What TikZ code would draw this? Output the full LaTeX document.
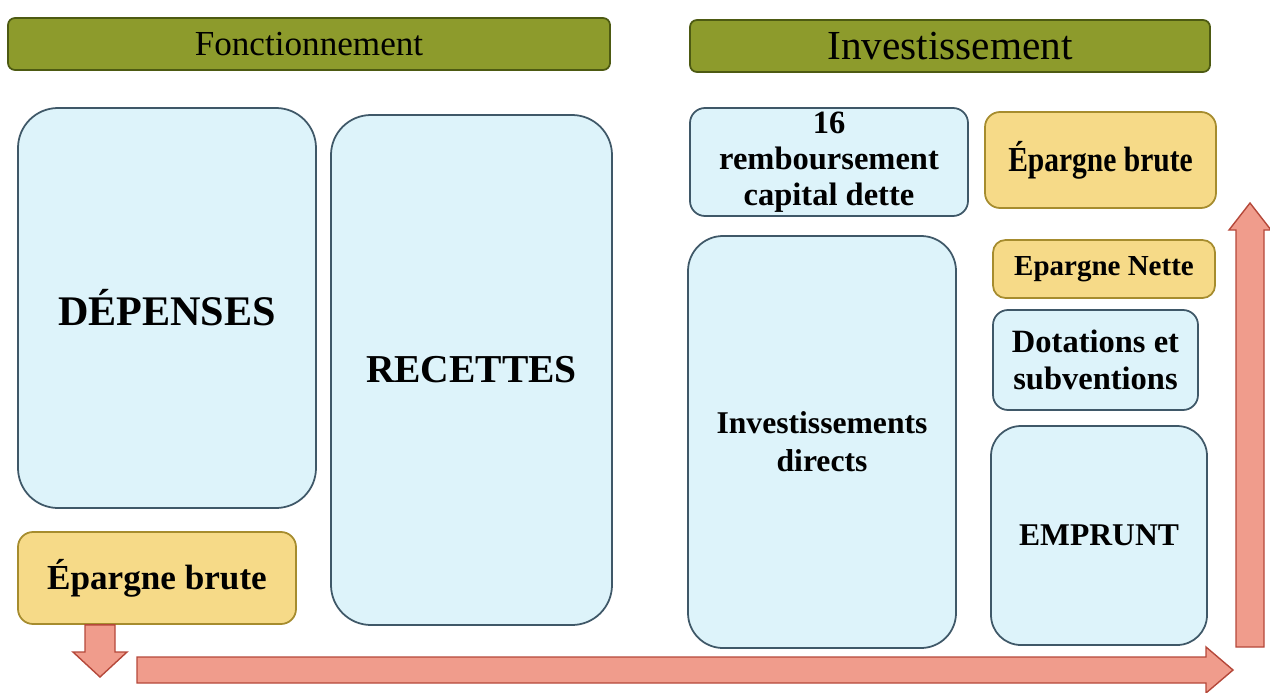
\documentclass[tikz,border=0pt]{standalone}
\usepackage{fontspec}
\setmainfont{Liberation Serif}
\usepackage{tikz}
\usetikzlibrary{positioning,calc}
\definecolor{barolive}{HTML}{8D9B2C}
\definecolor{baredge}{HTML}{4D5A12}
\definecolor{boxblue}{HTML}{DDF3FA}
\definecolor{boxedge}{HTML}{3F5868}
\definecolor{boxyellow}{HTML}{F6DA88}
\definecolor{yedge}{HTML}{A68C2E}
\definecolor{arrowfill}{HTML}{F09C8C}
\definecolor{arrowedge}{HTML}{B5483A}
\tikzset{
  barbox/.style={draw=baredge, fill=barolive, rounded corners=4pt, line width=1pt,
    minimum height=10.4mm, inner sep=0pt},
  bluebox/.style={draw=boxedge, fill=boxblue, line width=1pt, align=center,
    font=\bfseries, inner sep=2pt},
  yellowbox/.style={bluebox, draw=yedge, fill=boxyellow},
  flowarrow/.style={draw=arrowedge, fill=arrowfill, line width=0.8pt},
}

\begin{document}
\begin{tikzpicture}[x=0.2mm, y=-0.2mm]
  \useasboundingbox (0,0) rectangle (1270,692);
  % bandeaux
  \node[barbox, minimum width=120.4mm, font=\fontsize{20}{24}\selectfont] (fonc) at (309,44) {Fonctionnement};
  \node[barbox, minimum width=104mm, font=\fontsize{23.5}{28}\selectfont] (inv) at (950,46) {Investissement};
  % fonctionnement
  \node[bluebox, rounded corners=8mm, minimum width=59.6mm, minimum height=80mm,
    font=\bfseries\fontsize{24}{28}\selectfont] (dep) at (167,308) {DÉPENSES};
  \node[bluebox, rounded corners=8mm, minimum width=56.2mm, minimum height=102mm,
    font=\bfseries\fontsize{22.5}{26}\selectfont] (rec) at (471.5,370) {RECETTES};
  \node[yellowbox, rounded corners=3mm, minimum width=55.6mm, minimum height=18.4mm,
    font=\bfseries\fontsize{20}{24}\selectfont] (epbL) at (157,578) {Épargne brute};
  % investissement
  \node[bluebox, rounded corners=3mm, minimum width=55.6mm, minimum height=21.6mm,
    font=\bfseries\fontsize{18.5}{20.5}\selectfont] (remb) at (829,162) {16\\remboursement\\capital dette};
  \node[yellowbox, rounded corners=3mm, minimum width=46.2mm, minimum height=19.2mm,
    font=\bfseries\fontsize{20}{24}\selectfont] (epbR) at (1100.5,160) {\scalebox{0.84}[1]{Épargne brute}};
  \node[bluebox, rounded corners=7mm, minimum width=53.6mm, minimum height=82.4mm,
    font=\bfseries\fontsize{18}{21.5}\selectfont] (invdir) at (822,442) {Investissements\\directs};
  \node[yellowbox, rounded corners=2.5mm, minimum width=44.4mm, minimum height=11.6mm,
    font=\bfseries\fontsize{16.5}{20}\selectfont] (epn) at (1104,269) {Epargne Nette};
  \node[bluebox, rounded corners=3mm, minimum width=41mm, minimum height=20mm,
    font=\bfseries\fontsize{18.5}{21}\selectfont] (dot) at (1095.5,360) {Dotations et\\subventions};
  \node[bluebox, rounded corners=6mm, minimum width=43.2mm, minimum height=43.8mm,
    font=\bfseries\fontsize{18}{21}\selectfont] (emp) at (1099,535.5) {EMPRUNT};
  % flèches
  \coordinate (dtop) at (epbL.south -| 100,0);
  \coordinate (dtip) at (100,677);
  \draw[flowarrow] ($(dtop)+(-15,0)$) -- ($(dtip)+(-15,-25)$) -- ($(dtip)+(-27,-25)$) -- (dtip)
    -- ($(dtip)+(27,-25)$) -- ($(dtip)+(15,-25)$) -- ($(dtop)+(15,0)$) -- cycle;
  \coordinate (hstart) at (137,670);
  \coordinate (htip) at (1233,670);
  \draw[flowarrow] ($(hstart)+(0,-13)$) -- ($(htip)+(-27,-13)$) -- ($(htip)+(-27,-23)$) -- (htip)
    -- ($(htip)+(-27,23)$) -- ($(htip)+(-27,13)$) -- ($(hstart)+(0,13)$) -- cycle;
  \coordinate (vstart) at (1250,647);
  \coordinate (vtip) at (1250,203);
  \draw[flowarrow] ($(vstart)+(-14,0)$) -- ($(vtip)+(-14,27)$) -- ($(vtip)+(-21,27)$) -- (vtip)
    -- ($(vtip)+(21,27)$) -- ($(vtip)+(14,27)$) -- ($(vstart)+(14,0)$) -- cycle;
\end{tikzpicture}
\end{document}
